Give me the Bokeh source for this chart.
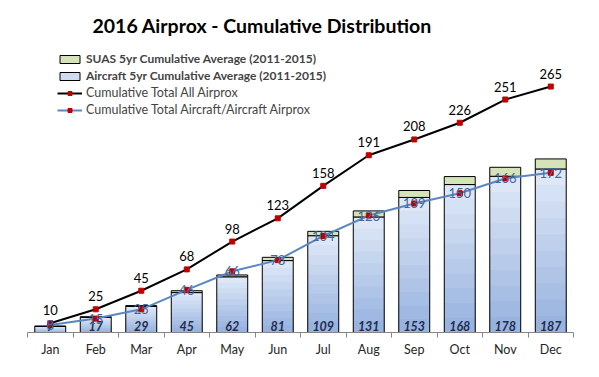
from bokeh.plotting import figure
from bokeh.models import (ColumnDataSource, Range1d, FixedTicker, Legend,
                          LegendItem, LabelSet)
from bokeh.embed import file_html
from bokeh.resources import INLINE
from bokeh.core.properties import value

# ---- data ----
months = ["Jan", "Feb", "Mar", "Apr", "May", "Jun",
          "Jul", "Aug", "Sep", "Oct", "Nov", "Dec"]
aircraft_avg = [6.5, 16.3, 28, 43, 60, 77.5, 104.3, 124.5, 145.5, 159.4, 168.3, 176.2]
suas_avg = [0.5, 0.7, 1, 2, 2, 3.5, 4.7, 6.5, 7.5, 8.6, 9.7, 10.8]
total_all = [10, 25, 45, 68, 98, 123, 158, 191, 208, 226, 251, 265]
total_aircraft = [8, 15, 25, 46, 66, 78, 104, 126, 139, 150, 166, 172]

FONT = "Lato"
x = list(range(len(months)))
bar_total = [a + s for a, s in zip(aircraft_avg, suas_avg)]

src = ColumnDataSource(dict(
    x=x,
    aircraft=aircraft_avg,
    suas_top=bar_total,
    bar_label=[str(round(t)) for t in bar_total],
    total_all=total_all,
    total_all_lbl=[str(v) for v in total_all],
    total_ac=total_aircraft,
    total_ac_lbl=[str(v) for v in total_aircraft],
))

p = figure(width=599, height=377, output_backend="svg", toolbar_location=None,
           x_range=Range1d(-0.5, 11.5), y_range=Range1d(0, 314.6),
           min_border_left=27, min_border_right=26,
           min_border_top=40, min_border_bottom=45)
p.outline_line_color = None
p.background_fill_color = "white"
p.grid.visible = False
p.yaxis.visible = False

p.title.text = "2016 Airprox  - Cumulative Distribution"
p.title.text_font = FONT
p.title.text_font_size = "19.5px"
p.title.text_font_style = "bold"
p.title.text_color = "black"
p.title.align = "left"
p.title.offset = 65
p.title.standoff = 8

# ---- x axis ----
ax = p.xaxis[0]
ax.ticker = FixedTicker(ticks=x, minor_ticks=[i - 0.5 for i in range(len(months) + 1)])
ax.major_label_overrides = {i: m for i, m in enumerate(months)}
ax.major_tick_out = 0
ax.major_tick_in = 0
ax.minor_tick_out = 5
ax.minor_tick_in = 0
ax.minor_tick_line_color = "#868686"
ax.axis_line_color = "#868686"
ax.major_label_text_font = FONT
ax.major_label_text_font_size = "12.5px"
ax.major_label_text_color = "#262626"
ax.major_label_standoff = 4

# ---- aircraft bars (gradient via layers) ----
K = 10
top_c = (0xDD, 0xE7, 0xF6)
bot_c = (0x98, 0xB3, 0xE0)
layers = []
for k in range(K):
    f = 1 - k / K
    t = k / (K - 1)
    col = "#%02x%02x%02x" % tuple(round(a + (b - a) * t) for a, b in zip(top_c, bot_c))
    src.data["lay%d" % k] = [a * f for a in aircraft_avg]
    r = p.vbar(x="x", top="lay%d" % k, bottom=0, width=0.68, source=src,
               fill_color=col, line_color=None)
    layers.append(r)
outline = p.vbar(x="x", top="aircraft", bottom=0, width=0.68, source=src,
                 fill_color=None, line_color="black", line_width=1)

# ---- SUAS bars ----
suas_r = p.vbar(x="x", top="suas_top", bottom="aircraft", width=0.68, source=src,
                fill_color="#d5e3b8", line_color="black", line_width=1)

# ---- bar labels ----
p.add_layout(LabelSet(x="x", y=0, text="bar_label", source=src,
                      text_align="center", text_baseline="bottom", y_offset=2,
                      text_font=value(FONT), text_font_size="12.5px",
                      text_font_style="bold italic", text_color="#1f2d4e"))

# ---- lines ----
l_all = p.line(x="x", y="total_all", source=src, line_color="black", line_width=2)
m_all = p.scatter(x="x", y="total_all", source=src, marker="square", size=5,
                  fill_color="#c00000", line_color="#c00000")
l_ac = p.line(x="x", y="total_ac", source=src, line_color="#5b87c1", line_width=2)
m_ac = p.scatter(x="x", y="total_ac", source=src, marker="square", size=5,
                 fill_color="#c00000", line_color="#c00000")

p.add_layout(LabelSet(x="x", y="total_all", text="total_all_lbl", source=src,
                      text_align="center", text_baseline="bottom", y_offset=8,
                      text_font=value(FONT), text_font_size="13px",
                      text_color="black"))
p.add_layout(LabelSet(x="x", y="total_ac", text="total_ac_lbl", source=src,
                      text_align="center", text_baseline="middle",
                      text_font=value(FONT), text_font_size="13px",
                      text_color="#44679f"))

# ---- legends ----
common = dict(border_line_color=None, background_fill_alpha=0, padding=0,
              margin=0, spacing=2, glyph_width=25, glyph_height=10,
              label_standoff=4, label_text_font=FONT, label_height=14)
leg1 = Legend(items=[
    LegendItem(label="SUAS 5yr Cumulative Average (2011-2015)", renderers=[suas_r]),
    LegendItem(label="Aircraft 5yr Cumulative Average (2011-2015)",
               renderers=[layers[2], outline]),
], location=(30, 249), label_text_font_style="bold",
    label_text_font_size="12px", **common)
leg2 = Legend(items=[
    LegendItem(label="Cumulative Total All Airprox", renderers=[l_all, m_all]),
    LegendItem(label="Cumulative Total Aircraft/Aircraft Airprox", renderers=[l_ac, m_ac]),
], location=(30, 215), label_text_font_size="12.5px", **common)
p.add_layout(leg1)
p.add_layout(leg2)

open("out.html", "w").write(file_html(p, INLINE))
